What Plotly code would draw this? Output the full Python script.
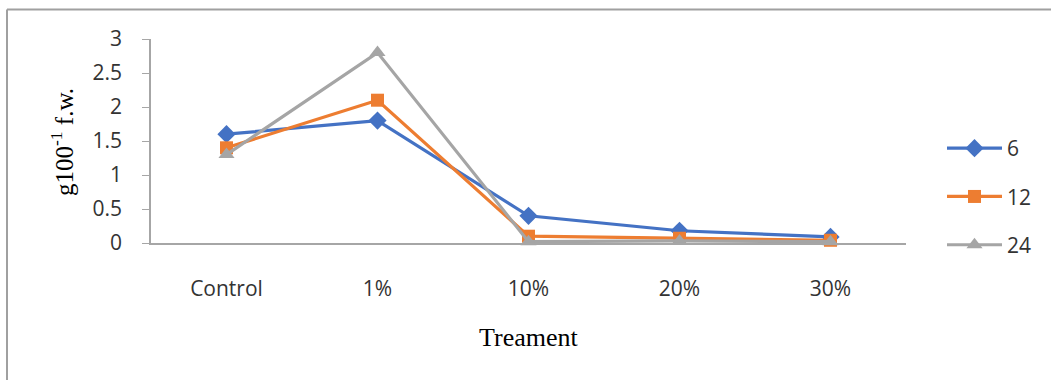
import plotly.graph_objects as go

# Treatment levels on the x axis
treatments = ["Control", "1%", "10%", "20%", "30%"]

# Measured values per series (g 100^-1 f.w.)
series_6 = [1.6, 1.8, 0.4, 0.18, 0.09]
series_12 = [1.4, 2.1, 0.1, 0.07, 0.04]
series_24 = [1.3, 2.8, 0.02, 0.03, 0.02]

series_names = ["6", "12", "24"]
y_ticks = [0, 0.5, 1, 1.5, 2, 2.5, 3]
y_tick_text = ["0", "0.5", "1", "1.5", "2", "2.5", "3"]

W, H = 1051, 380
L, R, T, B = 151, 145, 39, 137
pw, ph = W - L - R, H - T - B


def px_x(px):
    return (px - L) / pw


def px_y(py):
    return (H - B - py) / ph


styles = [
    dict(color="#4472C4", symbol="diamond", size=14),
    dict(color="#ED7D31", symbol="square", size=13),
    dict(color="#A5A5A5", symbol="triangle-up", size=14),
]

fig = go.Figure()
for name, vals, st in zip(series_names, [series_6, series_12, series_24], styles):
    fig.add_trace(go.Scatter(
        x=treatments, y=vals, name=name, mode="lines+markers",
        line=dict(color=st["color"], width=3.2),
        marker=dict(color=st["color"], symbol=st["symbol"], size=st["size"]),
        cliponaxis=False, legendgroup=name,
    ))

tick_font = dict(family="Open Sans, Liberation Sans, sans-serif", size=21, color="#333333")
fig.update_layout(
    width=W, height=H,
    margin=dict(l=L, r=R, t=T, b=B),
    paper_bgcolor="white", plot_bgcolor="white",
    showlegend=True,
    legend=dict(
        x=px_x(942), y=px_y(128), xanchor="left", yanchor="top",
        font=dict(family="Open Sans, Liberation Sans, sans-serif", size=21, color="#333333"),
        tracegroupgap=18, itemwidth=55, bgcolor="rgba(0,0,0,0)",
    ),
    xaxis=dict(
        type="category", range=[-0.5, 4.5], showgrid=False, zeroline=False,
        showline=True, linecolor="#A6A6A6", linewidth=1.5, ticks="",
        tickfont=tick_font, ticklabelstandoff=26,
    ),
    yaxis=dict(
        range=[0, 3], tickvals=y_ticks, ticktext=y_tick_text,
        showgrid=False, zeroline=False, showline=True, linecolor="#A6A6A6",
        linewidth=1.5, ticks="outside", ticklen=7, tickcolor="#A6A6A6",
        tickfont=tick_font, ticklabelstandoff=16,
    ),
    shapes=[
        # outer frame (top and left edges)
        dict(type="line", xref="paper", yref="paper", x0=px_x(7), x1=px_x(W + 5),
             y0=px_y(9.5), y1=px_y(9.5), line=dict(color="#A0A0A0", width=2)),
        dict(type="line", xref="paper", yref="paper", x0=px_x(7), x1=px_x(7),
             y0=px_y(9.5), y1=px_y(H + 5), line=dict(color="#A0A0A0", width=2)),
    ],
    annotations=[
        dict(text="g100<sup>-1</sup> f.w.", xref="paper", yref="paper",
             x=px_x(62), y=px_y(142), textangle=-90, showarrow=False,
             xanchor="center", yanchor="middle",
             font=dict(family="Liberation Serif, serif", size=25, color="black")),
        dict(text="Treament", xref="paper", yref="paper",
             x=px_x(528), y=px_y(337), showarrow=False,
             xanchor="center", yanchor="middle",
             font=dict(family="Liberation Serif, serif", size=26, color="black")),
    ],
)

fig.write_html("out.html")
